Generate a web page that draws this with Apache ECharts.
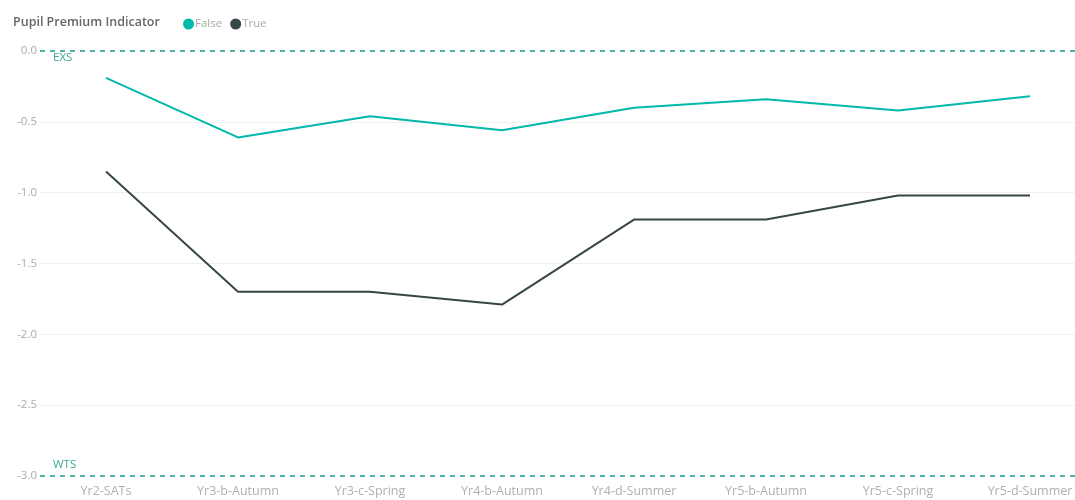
<!DOCTYPE html>
<html>
<head>
<meta charset="utf-8">
<script src="https://cdn.jsdelivr.net/npm/echarts@6/dist/echarts.min.js"></script>
<style>
  html, body { margin: 0; padding: 0; background: #fff; }
  #chart { width: 1075px; height: 500px; }
</style>
</head>
<body>
<div id="chart"></div>
<script>
// Assessment points along the x axis
const categories = ['Yr2-SATs', 'Yr3-b-Autumn', 'Yr3-c-Spring', 'Yr4-b-Autumn',
                    'Yr4-d-Summer', 'Yr5-b-Autumn', 'Yr5-c-Spring', 'Yr5-d-Summer'];
// Average attainment by Pupil Premium Indicator
const falseValues = [-0.19, -0.61, -0.46, -0.56, -0.40, -0.34, -0.42, -0.32];
const trueValues  = [-0.85, -1.70, -1.70, -1.79, -1.19, -1.19, -1.02, -1.02];
// Reference bands
const refLines = [
  { name: 'EXS', value: 0 },
  { name: 'WTS', value: -3 }
];
const yMin = -3, yMax = 0, yStep = 0.5;

const FONT = '"Open Sans", "Noto Sans", sans-serif';
const TEAL = '#01B8AA';
const DARK = '#374649';

const chart = echarts.init(document.getElementById('chart'), null, { renderer: 'canvas' });

chart.setOption({
  animation: false,
  textStyle: { fontFamily: FONT },
  title: {
    text: 'Pupil Premium Indicator',
    left: 8, top: 11,
    textStyle: { fontFamily: FONT, fontSize: 12.5, fontWeight: 600, color: '#666' }
  },
  legend: {
    left: 178, top: 13,
    icon: 'circle',
    itemWidth: 11, itemHeight: 11, itemGap: 8,
    textStyle: { fontFamily: FONT, fontSize: 11.5, color: '#aaa', padding: [0, 0, 0, -4] },
    data: ['False', 'True']
  },
  grid: { left: 40, right: -21, top: 51, bottom: 24, containLabel: false, outerBoundsMode: 'none' },
  xAxis: {
    type: 'category',
    data: categories,
    boundaryGap: true,
    axisLine: { show: false },
    axisTick: { show: false },
    axisLabel: { color: '#b0b0b0', fontSize: 12.5, margin: 9, fontFamily: FONT, hideOverlap: false }
  },
  yAxis: {
    type: 'value',
    min: yMin, max: yMax, interval: yStep,
    axisLine: { show: false },
    axisTick: { show: false },
    axisLabel: {
      color: '#aaa', fontSize: 11.5, margin: 3, fontFamily: FONT,
      formatter: v => v.toFixed(1)
    },
    splitLine: {
      lineStyle: {
        color: ['transparent', '#f0f0f0', '#f0f0f0', '#f0f0f0', '#f0f0f0', '#f0f0f0', 'transparent'],
        width: 1
      }
    }
  },
  series: [
    {
      name: 'False',
      type: 'line',
      data: falseValues,
      showSymbol: false,
      symbol: 'none',
      color: TEAL,
      lineStyle: { width: 2, color: TEAL },
      z: 3,
      markLine: {
        silent: true,
        symbol: 'none',
        lineStyle: { color: '#4fb5a8', type: [5, 5], width: 2 },
        data: refLines.map((r, i) => ({
          name: r.name,
          yAxis: r.value,
          label: {
            show: true,
            formatter: r.name,
            position: i === 0 ? 'insideStartBottom' : 'insideStartTop',
            distance: i === 0 ? [13, 1] : [13, 5],
            color: '#3aa898',
            fontSize: 11.5,
            fontFamily: FONT
          }
        }))
      }
    },
    {
      name: 'True',
      type: 'line',
      data: trueValues,
      showSymbol: false,
      symbol: 'none',
      color: DARK,
      lineStyle: { width: 2, color: DARK },
      z: 3
    }
  ]
});
</script>
</body>
</html>
